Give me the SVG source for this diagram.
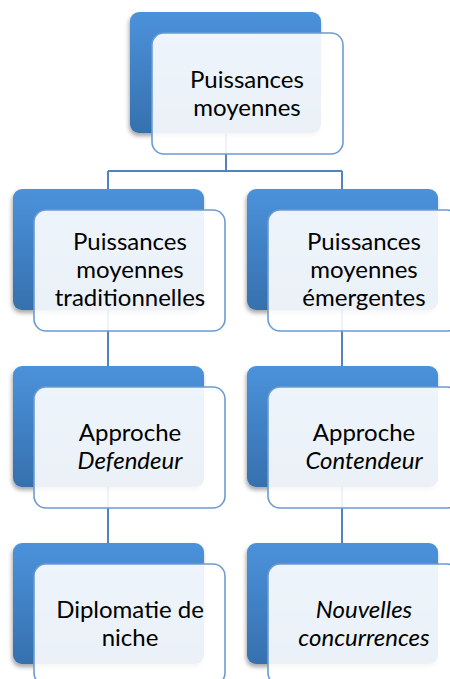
<svg xmlns="http://www.w3.org/2000/svg" width="450" height="679" viewBox="0 0 450 679">
<defs>
<linearGradient id="bg" x1="0" y1="0" x2="0" y2="1">
<stop offset="0" stop-color="#4b92db"/>
<stop offset="1" stop-color="#3670ae"/>
</linearGradient>
<filter id="sh" x="-20%" y="-20%" width="140%" height="140%">
<feDropShadow dx="-1" dy="3" stdDeviation="2" flood-color="#000" flood-opacity="0.35"/>
</filter>
<style>
.back{fill:url(#bg);filter:url(#sh)}
.front{fill:#ffffff;fill-opacity:0.9;stroke:#6c9bd2;stroke-width:1.6}
.conn{fill:none;stroke:#5482bd;stroke-width:2}
text{font-family:Lato,"Liberation Sans",sans-serif;font-size:24px;fill:#000;text-anchor:middle}
.it{font-style:italic}
</style>
</defs>
<rect width="450" height="679" fill="#ffffff"/>
<g id="connectors">
<path class="conn" d="M226,120 V171 M108,171 H342 M108,171 V200 M342,171 V200 M108,300 V380 M342,300 V380 M108,480 V560 M342,480 V560"/>
</g>
<g id="node-top">
<rect class="back" x="130" y="12" width="191" height="121" rx="9"/>
<rect class="front" x="152" y="33" width="191" height="121" rx="12"/>
<text x="247" y="87.5">Puissances</text>
<text x="247" y="115.5">moyennes</text>
</g>
<g id="node-trad">
<rect class="back" x="13" y="189" width="191" height="121" rx="9"/>
<rect class="front" x="34" y="210" width="191" height="121" rx="12"/>
<text x="130" y="250">Puissances</text>
<text x="130" y="278">moyennes</text>
<text x="130" y="306">traditionnelles</text>
</g>
<g id="node-emerg">
<rect class="back" x="247" y="189" width="191" height="121" rx="9"/>
<rect class="front" x="268" y="210" width="191" height="121" rx="12"/>
<text x="364" y="250">Puissances</text>
<text x="364" y="278">moyennes</text>
<text x="364" y="306">émergentes</text>
</g>
<g id="node-defendeur">
<rect class="back" x="13" y="366" width="191" height="121" rx="9"/>
<rect class="front" x="34" y="387" width="191" height="121" rx="12"/>
<text x="130" y="441">Approche</text>
<text x="130" y="469" class="it">Defendeur</text>
</g>
<g id="node-contendeur">
<rect class="back" x="247" y="366" width="191" height="121" rx="9"/>
<rect class="front" x="268" y="387" width="191" height="121" rx="12"/>
<text x="364" y="441">Approche</text>
<text x="364" y="469" class="it">Contendeur</text>
</g>
<g id="node-niche">
<rect class="back" x="13" y="543" width="191" height="121" rx="9"/>
<rect class="front" x="34" y="564" width="191" height="121" rx="12"/>
<text x="130" y="618">Diplomatie de</text>
<text x="130" y="646">niche</text>
</g>
<g id="node-nouvelles">
<rect class="back" x="247" y="543" width="191" height="121" rx="9"/>
<rect class="front" x="268" y="564" width="191" height="121" rx="12"/>
<text x="364" y="618" class="it">Nouvelles</text>
<text x="364" y="646" class="it">concurrences</text>
</g>
</svg>
